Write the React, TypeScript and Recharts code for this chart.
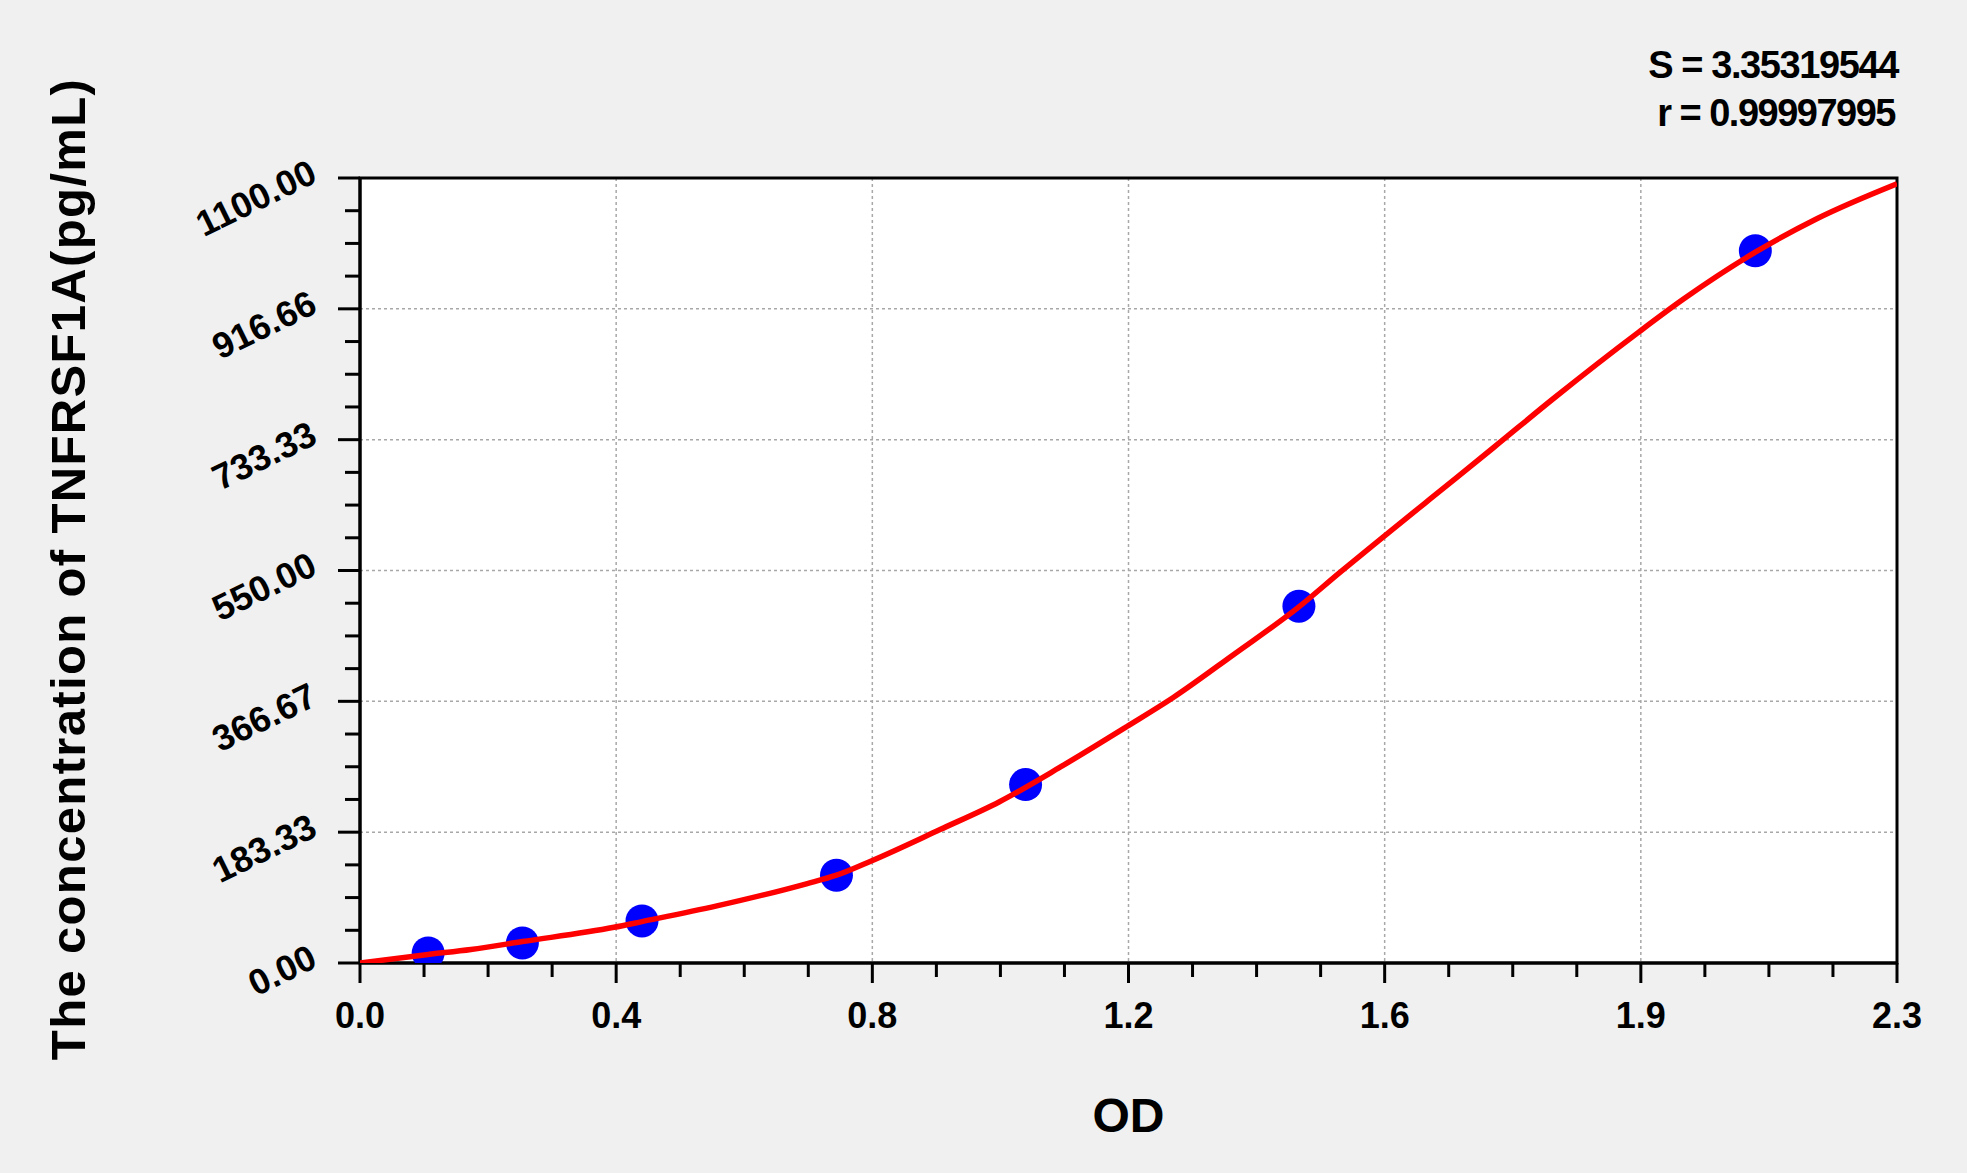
import React from 'react';
import {
  ComposedChart,
  Line,
  Scatter,
  XAxis,
  YAxis,
  CartesianGrid,
  ReferenceArea,
  Label,
} from 'recharts';

// ---- data ----
const curveOD = [0, 0.102, 0.166, 0.243, 0.38, 0.422, 0.534, 0.668, 0.713, 0.765, 0.868, 0.957, 1.047, 1.147, 1.217, 1.307, 1.405, 1.466, 1.53, 1.601, 1.696, 1.786, 1.912, 1.98, 2.088, 2.18, 2.3];
const curveConc = [0, 12, 19, 30, 50, 58, 80, 111, 123, 143, 187, 226, 274, 331, 372, 432, 499, 547, 596, 650, 722, 791, 883, 930, 996, 1043, 1092];

const pointOD = [0.102, 0.243, 0.422, 0.713, 0.996, 1.405, 2.088];
const pointConc = [14, 28, 59, 123, 250, 500, 998];

const xMajorTicks = [0, 0.38333, 0.76667, 1.15, 1.53333, 1.91667, 2.3];
const xMajorLabels = ['0.0', '0.4', '0.8', '1.2', '1.6', '1.9', '2.3'];
const xMinorTicks = [0.09583, 0.19167, 0.2875, 0.47917, 0.575, 0.67083, 0.8625, 0.95833, 1.05417, 1.24583, 1.34167, 1.4375, 1.62917, 1.725, 1.82083, 2.0125, 2.10833, 2.20417];

const yMajorTicks = [0, 183.33, 366.67, 550, 733.33, 916.66, 1100];
const yMajorLabels = ['0.00', '183.33', '366.67', '550.00', '733.33', '916.66', '1100.00'];
const yMinorTicks = [45.83, 91.67, 137.5, 229.17, 275, 320.83, 412.5, 458.33, 504.17, 595.83, 641.67, 687.5, 779.17, 825, 870.83, 962.5, 1008.33, 1054.17];

const xTitle = 'OD';
const yTitle = 'The concentration of TNFRSF1A(pg/mL)';
const statS = 'S = 3.35319544';
const statR = 'r = 0.99997995';

const FONT = "'Liberation Sans', Arial, Helvetica, sans-serif";

const curveData = curveOD.map((od, i) => ({ od, conc: curveConc[i] }));
const pointData = pointOD.map((od, i) => ({ od, conc: pointConc[i] }));
const xAllTicks = [...xMajorTicks, ...xMinorTicks].sort((a, b) => a - b);
const yAllTicks = [...yMajorTicks, ...yMinorTicks].sort((a, b) => a - b);

const XTick = (props: any) => {
  const { x, y, payload } = props;
  const idx = xMajorTicks.indexOf(payload.value);
  const major = idx >= 0;
  return (
    <g>
      <line x1={x} y1={y} x2={x} y2={y + (major ? 20 : 14)} stroke="#000" strokeWidth={3} />
      {major && (
        <text x={x} y={y + 65} textAnchor="middle" fontSize={36} fontWeight="bold" fontFamily={FONT} fill="#000">
          {xMajorLabels[idx]}
        </text>
      )}
    </g>
  );
};

const YTick = (props: any) => {
  const { x, y, payload } = props;
  const idx = yMajorTicks.indexOf(payload.value);
  const major = idx >= 0;
  const tx = x - 41;
  const ty = y + 3;
  return (
    <g>
      <line x1={x} y1={y} x2={x - (major ? 22 : 15)} y2={y} stroke="#000" strokeWidth={3} />
      {major && (
        <text
          x={tx}
          y={ty}
          textAnchor="end"
          transform={`rotate(-26 ${tx} ${ty})`}
          fontSize={36}
          fontWeight="bold"
          fontFamily={FONT}
          fill="#000"
        >
          {yMajorLabels[idx]}
        </text>
      )}
    </g>
  );
};

const Dot = (props: any) => {
  const { cx, cy } = props;
  return <circle cx={cx} cy={cy} r={16.5} fill="#0000ff" />;
};

export default function App() {
  return (
    <div style={{ position: 'relative', width: 1967, height: 1173, background: '#f0f0f0' }}>
      <style>{`body{margin:0;background:#f0f0f0;}`}</style>
      <ComposedChart
        width={1967}
        height={1173}
        margin={{ top: 178, right: 70, bottom: 0, left: 0 }}
      >
        <CartesianGrid
          fill="#ffffff"
          stroke="#a8a8a8"
          strokeWidth={1.5}
          strokeDasharray="3 3"
          horizontalValues={yMajorTicks}
          verticalValues={xMajorTicks}
        />
        <XAxis
          type="number"
          dataKey="od"
          domain={[0, 2.3]}
          ticks={xAllTicks}
          interval={0}
          tick={(p: any) => <XTick {...p} />}
          tickSize={0}
          tickMargin={0}
          tickLine={false}
          axisLine={{ stroke: '#000', strokeWidth: 3 }}
          height={210}
          allowDataOverflow
        >
          <Label
            content={(p: any) => {
              const vb = p.viewBox || {};
              return (
                <text
                  x={vb.x + vb.width / 2}
                  y={vb.y + 169}
                  textAnchor="middle"
                  fontSize={48}
                  fontWeight="bold"
                  fontFamily={FONT}
                  fill="#000"
                >
                  {xTitle}
                </text>
              );
            }}
          />
        </XAxis>
        <YAxis
          type="number"
          dataKey="conc"
          domain={[0, 1100]}
          ticks={yAllTicks}
          interval={0}
          tick={(p: any) => <YTick {...p} />}
          tickSize={0}
          tickMargin={0}
          tickLine={false}
          axisLine={{ stroke: '#000', strokeWidth: 3 }}
          width={360}
          allowDataOverflow
        >
          <Label
            content={(p: any) => {
              const vb = p.viewBox || {};
              const cx = 85;
              const cy = vb.y + vb.height / 2 - 1.5;
              return (
                <text
                  x={cx}
                  y={cy}
                  textAnchor="middle"
                  transform={`rotate(-90 ${cx} ${cy})`}
                  fontSize={49}
                  fontWeight="bold"
                  letterSpacing={1.35}
                  fontFamily={FONT}
                  fill="#000"
                >
                  {yTitle}
                </text>
              );
            }}
          />
        </YAxis>
        <ReferenceArea
          x1={0}
          x2={2.3}
          y1={0}
          y2={1100}
          fill="none"
          stroke="#000"
          strokeWidth={3}
          ifOverflow="visible"
        />
        <Scatter
          data={pointData}
          dataKey="conc"
          shape={(p: any) => <Dot {...p} />}
          isAnimationActive={false}
        />
        <Line
          data={curveData}
          dataKey="conc"
          type="monotone"
          stroke="#ff0000"
          strokeWidth={5.5}
          dot={false}
          activeDot={false}
          isAnimationActive={false}
          zIndex={700}
        />
      </ComposedChart>
      <svg
        width={1967}
        height={170}
        style={{ position: 'absolute', left: 0, top: 0, pointerEvents: 'none' }}
      >
        <text x={1898} y={78} textAnchor="end" fontSize={38} fontWeight="bold" letterSpacing={-1.4} fontFamily={FONT} fill="#000">
          {statS}
        </text>
        <text x={1895} y={126} textAnchor="end" fontSize={38} fontWeight="bold" letterSpacing={-1.5} fontFamily={FONT} fill="#000">
          {statR}
        </text>
      </svg>
    </div>
  );
}
